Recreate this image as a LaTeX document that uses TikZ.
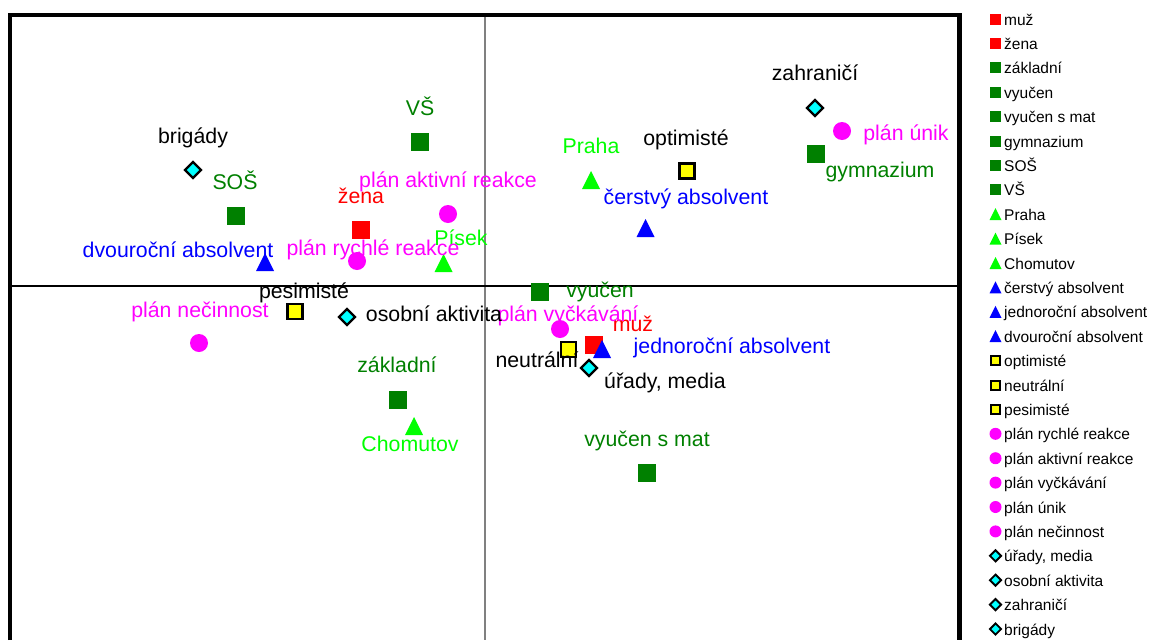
\documentclass[tikz,border=0pt]{standalone}
\usepackage{fontspec}
\setmainfont{Liberation Sans}
\usetikzlibrary{shapes,arrows,positioning}
\definecolor{dkgreen}{RGB}{0,128,0}
\definecolor{ltgreen}{RGB}{0,255,0}
\definecolor{axisgray}{RGB}{128,128,128}
\definecolor{plotred}{RGB}{255,0,0}
\definecolor{plotblue}{RGB}{0,0,255}
\definecolor{plotmag}{RGB}{255,0,255}
\definecolor{plotcyan}{RGB}{0,255,255}
\definecolor{plotyel}{RGB}{255,255,0}

\begin{document}
\begin{tikzpicture}[x=1pt, y=-1pt]
\tikzstyle{lbl} = [font=\fontsize{21.3}{25}\selectfont, inner sep=0pt, anchor=base]
\tikzstyle{keytext} = [font=\fontsize{15.5}{18}\selectfont, inner sep=0pt, text height=14pt, text depth=2pt, anchor=west]
\tikzstyle{sq} = [rectangle, inner sep=0pt, minimum size=18pt]
\tikzstyle{dot} = [circle, inner sep=0pt, minimum size=18pt, fill=plotmag]
\tikzstyle{opensq} = [rectangle, inner sep=0pt, minimum size=15pt, draw=black, line width=2.6pt, fill=plotyel]
\tikzstyle{dia} = [diamond, aspect=1, inner sep=0pt, minimum size=17pt, draw=black, line width=2.4pt, fill=plotcyan]
\tikzset{tri/.style={rectangle, inner sep=0pt, minimum width=18pt, minimum height=18pt,
  path picture={\fill[#1] (path picture bounding box.south west) -- (path picture bounding box.south east)
    -- (path picture bounding box.north) -- cycle;}}}
% legend markers
\tikzstyle{kred} = [sq, minimum size=11pt, fill=plotred]
\tikzstyle{kdkg} = [sq, minimum size=11pt, fill=dkgreen]
\tikzstyle{kltg} = [tri=ltgreen, minimum width=12pt, minimum height=12pt]
\tikzstyle{kblue} = [tri=plotblue, minimum width=12pt, minimum height=12pt]
\tikzstyle{kyel} = [opensq, minimum size=9pt, line width=2pt]
\tikzstyle{kmag} = [dot, minimum size=12pt]
\tikzstyle{kcyan} = [dia, minimum size=12pt, line width=1.9pt]

\useasboundingbox (0,0) rectangle (1151,640);

% axes and frame
\coordinate (axtop) at (485,15);
\coordinate (axbot) at (485,640);
\coordinate (axleft) at (10,286);
\coordinate (axright) at (959.5,286);
\draw[axisgray, line width=2pt] (axtop) -- (axbot);
\draw[black, line width=1.2pt] (axleft) -- (axright);
\draw[line width=4.5pt, line join=miter] (10,640) -- (10,15) -- (959.5,15) -- (959.5,640);

% gender, education
\node [sq, fill=plotred] (zena) at (361,230) {};
\node [sq, fill=plotred] (muz) at (594,345) {};
\node [sq, fill=dkgreen] (zakl) at (397.5,400) {};
\node [sq, fill=dkgreen] (vyuc) at (540,292) {};
\node [sq, fill=dkgreen] (vyucmat) at (647,473) {};
\node [sq, fill=dkgreen] (gymn) at (816,154) {};
\node [sq, fill=dkgreen] (sos) at (236,216) {};
\node [sq, fill=dkgreen] (vs) at (419.5,141.5) {};
% towns, graduates
\node [tri=ltgreen] (praha) at (591,180) {};
\node [tri=ltgreen] (pisek) at (443.5,263) {};
\node [tri=ltgreen] (chom) at (414,426) {};
\node [tri=plotblue] (cerstvy) at (645.5,228) {};
\node [tri=plotblue] (jednor) at (602,349) {};
\node [tri=plotblue] (dvour) at (265,262) {};
% outlook
\node [opensq] (optim) at (687,171) {};
\node [opensq] (neutr) at (568.5,349.5) {};
\node [opensq] (pesim) at (295,311.5) {};
% plans
\node [dot] (rychle) at (357,261) {};
\node [dot] (aktiv) at (448,214) {};
\node [dot] (vyck) at (560,329) {};
\node [dot] (unik) at (842,131) {};
\node [dot] (necin) at (199,343) {};
% job search
\node [dia] (urady) at (589,368) {};
\node [dia] (osob) at (347,317) {};
\node [dia] (zahr) at (815,108) {};
\node [dia] (brig) at (193,170) {};

% labels
\node [lbl, plotred] (zena-l) at (361,203) {žena};
\node [lbl, plotred] (muz-l) at (633,331) {muž};
\node [lbl, dkgreen] (zakl-l) at (397,372) {základní};
\node [lbl, dkgreen] (vyuc-l) at (600,297) {vyučen};
\node [lbl, dkgreen] (vyucmat-l) at (647,446) {vyučen s mat};
\node [lbl, dkgreen] (gymn-l) at (880,177) {gymnazium};
\node [lbl, dkgreen] (sos-l) at (235,189) {SOŠ};
\node [lbl, dkgreen] (vs-l) at (420,115) {VŠ};
\node [lbl, ltgreen] (praha-l) at (591,153) {Praha};
\node [lbl, ltgreen] (pisek-l) at (461,245) {Písek};
\node [lbl, ltgreen] (chom-l) at (410,451) {Chomutov};
\node [lbl, plotblue] (cerstvy-l) at (686,204) {čerstvý absolvent};
\node [lbl, plotblue] (jednor-l) at (732,353) {jednoroční absolvent};
\node [lbl, plotblue] (dvour-l) at (178,257) {dvouroční absolvent};
\node [lbl] (optim-l) at (686,145) {optimisté};
\node [lbl] (neutr-l) at (537,367) {neutrální};
\node [lbl] (pesim-l) at (304,298) {pesimisté};
\node [lbl, plotmag] (aktiv-l) at (448,187) {plán aktivní reakce};
\node [lbl, plotmag] (rychle-l) at (373,255) {plán rychlé reakce};
\node [lbl, plotmag] (vyck-l) at (568,321) {plán vyčkávání};
\node [lbl, plotmag] (unik-l) at (906,140) {plán únik};
\node [lbl, plotmag] (necin-l) at (200,317) {plán nečinnost};
\node [lbl] (zahr-l) at (815,80) {zahraničí};
\node [lbl] (brig-l) at (193,143) {brigády};
\node [lbl] (osob-l) at (434,321) {osobní aktivita};
\node [lbl] (urady-l) at (665,388) {úřady, media};

% legend
\foreach \mk/\txt [count=\i from 0] in {kred/muž, kred/žena, kdkg/základní, kdkg/vyučen,
    kdkg/vyučen s mat, kdkg/gymnazium, kdkg/SOŠ, kdkg/VŠ, kltg/Praha, kltg/Písek, kltg/Chomutov,
    kblue/čerstvý absolvent, kblue/jednoroční absolvent, kblue/dvouroční absolvent,
    kyel/optimisté, kyel/neutrální, kyel/pesimisté, kmag/plán rychlé reakce,
    kmag/plán aktivní reakce, kmag/plán vyčkávání, kmag/plán únik, kmag/plán nečinnost,
    kcyan/{úřady, media}, kcyan/osobní aktivita, kcyan/zahraničí, kcyan/brigády}
{
  \node [\mk] (key\i) at (995.5,{19+24.4*\i}) {};
  \node [keytext] (keytxt\i) at (1004,{19+24.4*\i}) {\txt};
}
\end{tikzpicture}
\end{document}
